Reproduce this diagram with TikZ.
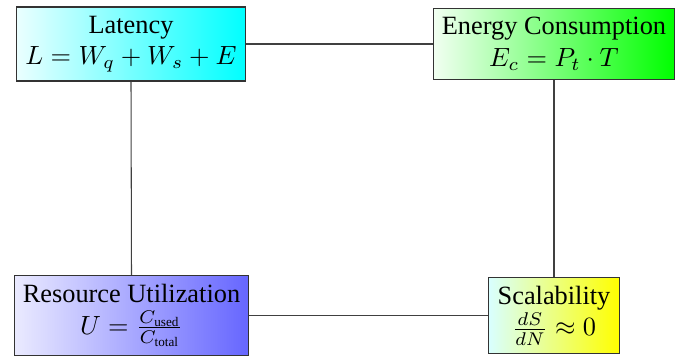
\documentclass[tikz,border=0pt]{standalone}
\usepackage{amsmath}
\usepackage{fontspec}
\setmainfont{Liberation Serif}
\begin{document}
\begin{tikzpicture}[x=0.3795pt,y=-0.3795pt,
  box/.style={draw=black!80,align=center,font=\normalsize},
  link/.style={draw=black!75}]
\useasboundingbox (0,0) rectangle (684,356);
\node[box,left color=cyan!8,right color=cyan] (lat) at (131,44) {Latency\\$L = W_q + W_s + E$};
\node[box,left color=green!5,right color=green] (ene) at (554,44) {Energy Consumption\\$E_c = P_t \cdot T$};
\node[box,left color=blue!8,right color=blue!60] (res) at (131.5,315.5) {Resource Utilization\\$U = \frac{C_{\text{used}}}{C_{\text{total}}}$};
\node[box,left color=cyan!15,right color=yellow] (sca) at (554,315.5) {Scalability\\$\frac{dS}{dN} \approx 0$};
\draw[link] (lat.east) -- (ene.west);
\draw[link] (lat.south) -- (res.north);
\draw[link] (ene.south) -- (sca.north);
\draw[link] (res.east) -- (sca.west);
\end{tikzpicture}
\end{document}
